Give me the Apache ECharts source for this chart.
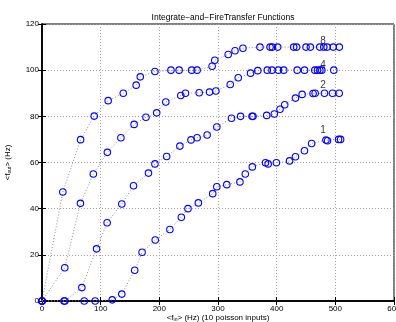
<!DOCTYPE html>
<html>
<head>
<meta charset="utf-8">
<script src="https://cdn.jsdelivr.net/npm/echarts@6/dist/echarts.min.js"></script>
<style>
  html, body { margin: 0; padding: 0; background: #fff; }
  #chart { width: 396px; height: 322px; }
</style>
</head>
<body>
<div id="chart"></div>
<script>
  // input rate <f_in> (Hz) and output rate <f_out> (Hz), one pair of arrays per curve
  const s8x = [0, 35.5, 65.8, 89, 112.8, 138.5, 160.5, 167.5, 192.5, 219.8, 233.8, 255.2, 264.4, 290, 294.5, 317.4, 329, 342.5, 371.5, 388.7, 392.6, 401.7, 429, 434, 450, 457.5, 473.5, 480.3, 486, 496.5, 506.8];
  const s8y = [0, 47.2, 69.9, 80.1, 86.8, 90, 93.5, 97.1, 99.4, 100, 100, 100, 100, 101.7, 104.3, 106.8, 108.4, 109.5, 110, 110, 110, 110, 110, 110, 110, 110, 110, 110, 110, 110, 110];

  const s4x = [0, 38.8, 65.5, 87.5, 111.4, 134.5, 157, 177.2, 195.5, 211, 236.6, 244.6, 268, 285.5, 296.4, 320.9, 334.5, 355.5, 367.8, 384, 392, 403, 412, 435, 447.5, 465, 469.6, 473.6, 477, 497.4];
  const s4y = [0, 14.4, 42.3, 55, 64.4, 70.7, 76.5, 79.6, 81.5, 86.2, 89, 90, 90.2, 90.5, 91, 93.8, 96.7, 98.7, 99.8, 100, 100, 100, 100, 100, 100, 100, 100, 100, 100, 100];

  const s2x = [0, 39, 67.9, 93, 111, 136, 156, 181.5, 192.5, 212.5, 235, 254, 264.4, 281.5, 298, 323, 338.5, 358, 359.7, 383, 396, 405.7, 413.7, 432, 443.4, 462, 465.6, 481.5, 495.2, 506.6];
  const s2y = [0, 0, 5.8, 22.6, 33.9, 42, 49.9, 55.4, 59.4, 62.6, 67.1, 69.8, 70.7, 71.9, 75.4, 79.2, 80, 80, 80, 80.4, 81, 83.1, 85, 87.9, 89.5, 89.9, 90, 90, 90, 90];

  const s1x = [0, 37.5, 72, 90.6, 119.7, 136, 158, 170.6, 193, 218, 237.5, 248.8, 266.5, 291, 298, 315, 337.4, 346.5, 358.5, 381, 385.5, 399.5, 422, 432, 447.4, 459.6, 484, 486.7, 505.5, 509];
  const s1y = [0, 0, 0, 0, 0.5, 3, 13.3, 21.1, 26.4, 31, 36.3, 40, 42.5, 46.5, 49.5, 50.4, 51.6, 55, 58.1, 59.9, 59.4, 59.9, 60.7, 62.5, 65.1, 68.2, 69.7, 69.4, 70, 70];

  // curve labels (number of inputs)
  const labelText = ['8', '4', '2', '1'];
  const labelX = [479, 479, 479, 479];
  const labelY = [112.7, 102.2, 93.5, 74];

  const font = 'Liberation Sans';
  const zip = (xs, ys) => xs.map((x, i) => [x, ys[i]]);

  function curve(name, xs, ys) {
    return {
      name: name,
      type: 'line',
      data: zip(xs, ys),
      symbol: 'circle',
      symbolSize: 6.5,
      showAllSymbol: true,
      itemStyle: { color: 'rgba(0,0,0,0)', borderColor: '#0000ff', borderWidth: 1.1 },
      emphasis: { disabled: true },
      lineStyle: { color: '#8c8c8c', width: 1, type: [1, 2] },
      z: 3
    };
  }

  const chart = echarts.init(document.getElementById('chart'), null, { renderer: 'canvas' });
  const tickIn = { show: true, inside: true, length: 4, lineStyle: { color: '#000' } };
  const gridLine = { show: true, lineStyle: { color: '#a0a0a0', width: 1, type: [1, 2] } };

  chart.setOption({
    animation: false,
    title: {
      text: 'Integrate\u2212and\u2212FireTransfer Functions',
      left: 218,
      textAlign: 'center',
      top: 8,
      textStyle: { fontFamily: font, fontSize: 8.5, fontWeight: 'normal', color: '#000' }
    },
    grid: {
      left: 42, top: 24, right: 2, bottom: 21,
      outerBoundsMode: 'none',
      show: true, borderColor: '#000', borderWidth: 1
    },
    xAxis: [
      {
        type: 'value', min: 0, max: 600, interval: 100,
        axisLine: { show: true, lineStyle: { color: '#000', width: 1.5 } },
        axisTick: tickIn,
        splitLine: gridLine,
        axisLabel: { fontFamily: font, fontSize: 8, color: '#000', margin: 4 },
        name: '<f{sub|in}> (Hz) (10 poisson inputs)',
        nameLocation: 'middle',
        nameGap: 13,
        nameMoveOverlap: false,
        nameTextStyle: {
          fontFamily: font, fontSize: 8, color: '#000',
          rich: { sub: { fontFamily: font, fontSize: 5, color: '#000', verticalAlign: 'bottom', padding: [3, 0, 0, 0] } }
        }
      },
      {
        type: 'value', min: 0, max: 600, interval: 100, position: 'top',
        axisLine: { show: true, lineStyle: { color: '#000', width: 1.5 } },
        axisTick: tickIn, axisLabel: { show: false }, splitLine: { show: false }
      }
    ],
    yAxis: [
      {
        type: 'value', min: 0, max: 120, interval: 20,
        axisLine: { show: true, lineStyle: { color: '#000', width: 1.5 } },
        axisTick: tickIn,
        splitLine: gridLine,
        axisLabel: { fontFamily: font, fontSize: 8, color: '#000', margin: 3 },
        name: '<f{sub|out}> (Hz)',
        nameLocation: 'middle',
        nameGap: 30,
        nameMoveOverlap: false,
        nameTextStyle: {
          fontFamily: font, fontSize: 8, color: '#000',
          rich: { sub: { fontFamily: font, fontSize: 5, color: '#000', verticalAlign: 'bottom', padding: [3, 0, 0, 0] } }
        }
      },
      {
        type: 'value', min: 0, max: 120, interval: 20, position: 'right',
        axisLine: { show: true, lineStyle: { color: '#000', width: 1.5 } },
        axisTick: tickIn, axisLabel: { show: false }, splitLine: { show: false }
      }
    ],
    series: [
      curve('8', s8x, s8y),
      curve('4', s4x, s4y),
      curve('2', s2x, s2y),
      curve('1', s1x, s1y),
      {
        name: 'labels',
        type: 'scatter',
        data: labelX.map((x, i) => ({ value: [x, labelY[i]], name: labelText[i] })),
        symbol: 'circle',
        symbolSize: 0,
        itemStyle: { color: 'rgba(0,0,0,0)' },
        label: {
          show: true, position: 'inside', formatter: '{b}',
          fontFamily: font, fontSize: 10, color: '#000'
        },
        z: 4
      }
    ]
  });
</script>
</body>
</html>
